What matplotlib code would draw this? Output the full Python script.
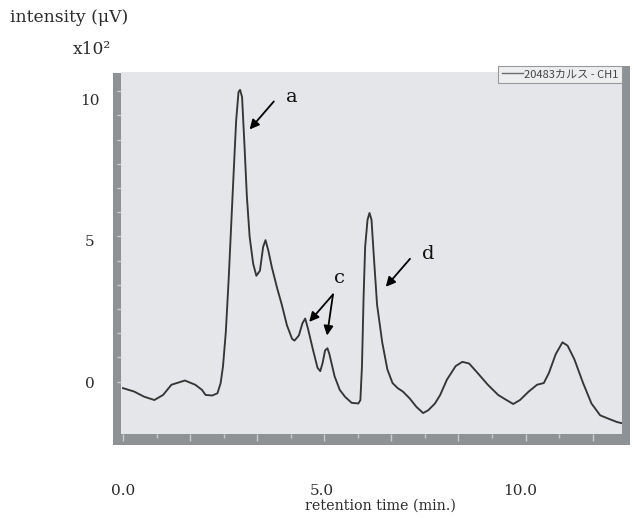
import matplotlib
matplotlib.use("Agg")
import matplotlib.pyplot as plt
import matplotlib.transforms as mtransforms
from matplotlib.patches import Rectangle
from matplotlib.lines import Line2D
import numpy as np

# Chromatogram trace: retention time (min) and intensity (x10^2 uV)
time_min = [0.00, 0.28, 0.53, 0.79, 1.01, 1.22, 1.56, 1.82, 1.99, 2.08, 2.25, 2.38,
            2.46, 2.52, 2.59, 2.66, 2.72, 2.78, 2.85, 2.91, 2.95, 3.00, 3.06, 3.12,
            3.19, 3.28, 3.36, 3.45, 3.53, 3.59, 3.66, 3.75, 3.88, 4.00, 4.13, 4.26,
            4.32, 4.43, 4.52, 4.59, 4.66, 4.78, 4.90, 4.97, 5.03, 5.09, 5.15, 5.20,
            5.33, 5.46, 5.59, 5.76, 5.93, 5.98, 6.02, 6.06, 6.10, 6.16, 6.21, 6.26,
            6.32, 6.40, 6.53, 6.66, 6.79, 6.92, 7.05, 7.22, 7.39, 7.56, 7.69, 7.86,
            7.99, 8.16, 8.38, 8.55, 8.72, 8.93, 9.19, 9.45, 9.66, 9.83, 10.00, 10.22,
            10.43, 10.60, 10.73, 10.90, 11.07, 11.20, 11.37, 11.59, 11.80, 12.02,
            12.23, 12.45, 12.57]
intensity = [-0.15, -0.27, -0.45, -0.57, -0.39, -0.03, 0.12, -0.03, -0.21, -0.39, -0.41, -0.33,
             0.03, 0.63, 1.83, 3.64, 5.44, 7.24, 9.29, 10.31, 10.39, 10.13, 8.44, 6.64,
             5.20, 4.24, 3.82, 4.00, 4.84, 5.08, 4.72, 4.12, 3.40, 2.80, 2.07, 1.59,
             1.53, 1.71, 2.14, 2.31, 1.95, 1.24, 0.57, 0.45, 0.75, 1.18, 1.26, 1.05,
             0.27, -0.21, -0.45, -0.67, -0.69, -0.57, 0.63, 3.04, 4.84, 5.80, 6.04, 5.80,
             4.48, 2.80, 1.47, 0.51, 0.03, -0.15, -0.27, -0.51, -0.81, -1.03, -0.93, -0.69,
             -0.39, 0.15, 0.63, 0.78, 0.72, 0.39, -0.03, -0.39, -0.57, -0.71, -0.57, -0.27,
             -0.03, 0.03, 0.39, 1.05, 1.47, 1.35, 0.87, 0.03, -0.69, -1.11,
             -1.23, -1.35, -1.39]

x_tick_values = [0.0, 5.0, 10.0]
x_tick_labels = ["0.0", "5.0", "10.0"]
y_tick_values = [0, 5, 10]
y_tick_labels = ["0", "5", "10"]

series_label = "20483カルス - CH1"

# Peak annotations: label, text position, arrow targets (tail, head)
peak_labels = ["a", "c", "d"]
peak_text_pos = [(4.26, 10.13), (5.46, 3.75), (7.68, 4.59)]
peak_arrows = [
    [((3.80, 9.98), (3.19, 8.99))],
    [((5.29, 3.16), (4.69, 2.19)), ((5.29, 3.16), (5.14, 1.71))],
    [((7.23, 4.42), (6.62, 3.43))],
]

W, H = 634, 518
fig = plt.figure(figsize=(W / 100, H / 100), dpi=100)
fig.patch.set_facecolor("white")


def fx(px):
    return px / W


def fy(py):
    return 1 - py / H


plot_bg = "#e4e6e9"
frame_gray = "#8e9295"
text_col = "#2b2b2b"
serif = ["DejaVu Serif"]

# instrument frame around the plotting area
for (x0, y0, x1, y1) in [(113, 73, 121, 445), (113, 434, 630, 445), (622, 66, 630, 445)]:
    fig.add_artist(Rectangle((fx(x0), fy(y1)), fx(x1) - fx(x0), fy(y0) - fy(y1),
                             transform=fig.transFigure, facecolor=frame_gray,
                             edgecolor="none", zorder=0))

ax = fig.add_axes([fx(121), fy(434), fx(622) - fx(121), fy(72) - fy(434)])
ax.set_facecolor(plot_bg)
for s in ax.spines.values():
    s.set_visible(False)

ax.plot(time_min, intensity, color="#353535", lw=1.35, solid_joinstyle="round")
ax.set_xlim(-0.05, 12.57)
ax.set_ylim(-1.77, 11.02)

# instrument tick marks on the frame
ax.set_xticks(np.arange(0, 12.6, 1.69))
ax.set_xticks(np.arange(0.845, 12.6, 1.69), minor=True)
ax.set_yticks(np.arange(0.08, 11.0, 0.855))
ax.tick_params(axis="both", which="both", direction="out", color="#c9cccf",
               labelbottom=False, labelleft=False)
ax.tick_params(axis="x", which="major", length=5, width=1)
ax.tick_params(axis="x", which="minor", length=3, width=1)
ax.tick_params(axis="y", which="major", length=3, width=1)

# axis value labels
tx = mtransforms.blended_transform_factory(ax.transData, fig.transFigure)
for v, lab in zip(x_tick_values, x_tick_labels):
    ax.text(v, fy(491), lab, transform=tx, ha="center", va="center",
            fontsize=11, family=serif, color=text_col)
ty = mtransforms.blended_transform_factory(fig.transFigure, ax.transData)
for v, lab in zip(y_tick_values, y_tick_labels):
    ax.text(fx(90), v, lab, transform=ty, ha="center", va="center",
            fontsize=11, family=serif, color=text_col, clip_on=False)

fig.text(fx(380), fy(506), "retention time (min.)", ha="center", va="center",
         fontsize=10.3, family=serif, color=text_col)
fig.text(fx(10), fy(17), "intensity (μV)", ha="left", va="center",
         fontsize=12.3, family=serif, color=text_col)
fig.text(fx(73), fy(50), "x10²", ha="left", va="center",
         fontsize=12.3, family=serif, color=text_col)

# peak annotations
for lab, pos, arrows in zip(peak_labels, peak_text_pos, peak_arrows):
    ax.text(pos[0], pos[1], lab, ha="center", va="center", fontsize=14,
            family=serif, color="#111111")
    for tail, head in arrows:
        ax.annotate("", xy=head, xytext=tail,
                    arrowprops=dict(arrowstyle="-|>", color="black", lw=1.3,
                                    mutation_scale=14, shrinkA=0, shrinkB=0))

# series legend in the top-right corner
handle = Line2D([], [], color="#6b6b6b", lw=1)
leg = fig.legend([handle], [series_label], loc="upper right",
                 bbox_to_anchor=(fx(622), fy(66)), frameon=True, fancybox=False,
                 handlelength=1.9, handletextpad=0.15, borderpad=0.3,
                 borderaxespad=0,
                 prop={"family": ["Noto Sans CJK JP", "DejaVu Sans"], "size": 8})
leg.get_frame().set_facecolor("#eceef0")
leg.get_frame().set_edgecolor("#9a9a9a")
leg.get_frame().set_linewidth(0.8)
leg.get_frame().set_alpha(1)
for t in leg.get_texts():
    t.set_color("#444444")

fig.savefig("out.png", dpi=100)
